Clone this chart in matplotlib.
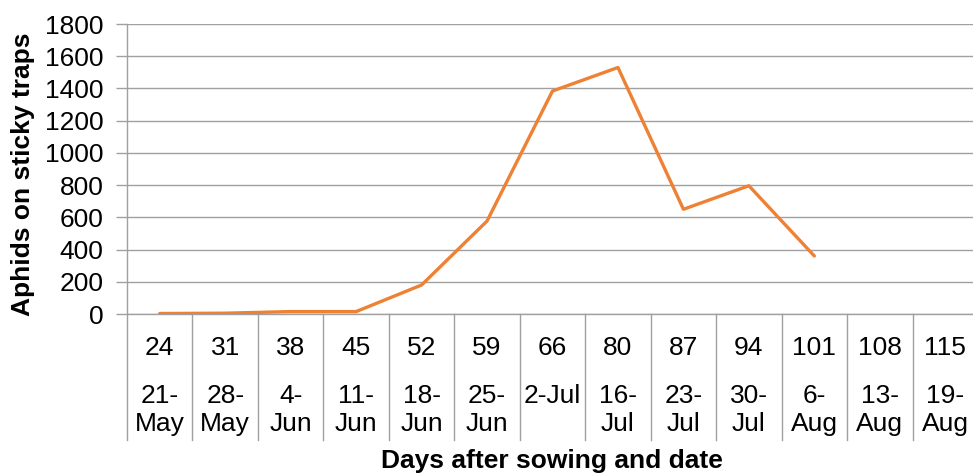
import matplotlib.pyplot as plt
import matplotlib.transforms as mtransforms

plt.rcParams['font.family'] = ['Liberation Sans', 'DejaVu Sans']

# Data
days = ['24', '31', '38', '45', '52', '59', '66', '80', '87', '94', '101', '108', '115']
dates = ['21-\nMay', '28-\nMay', '4-\nJun', '11-\nJun', '18-\nJun', '25-\nJun', '2-Jul',
         '16-\nJul', '23-\nJul', '30-\nJul', '6-\nAug', '13-\nAug', '19-\nAug']
aphids = [3, 5, 15, 15, 180, 577, 1384, 1530, 650, 796, 360]

line_color = '#EE8133'
grid_color = '#A0A0A0'
tick_fs = 19

fig = plt.figure(figsize=(9.73, 4.75), dpi=100)
ax = fig.add_axes([127 / 973, 161 / 475, 851 / 973, 290 / 475])

x = list(range(len(aphids)))
ax.plot(x, aphids, color=line_color, linewidth=2.4, solid_capstyle='round',
        solid_joinstyle='round', zorder=3)

ax.set_xlim(-0.5, len(days) - 0.5)
ax.set_ylim(0, 1800)
ax.set_yticks(range(0, 1801, 200))
ax.yaxis.grid(True, color=grid_color, linewidth=1.0)
ax.set_axisbelow(True)
ax.tick_params(axis='y', length=8, width=1.0, color=grid_color, labelsize=tick_fs,
               pad=9)
ax.set_xticks([])

for side in ['top', 'right']:
    ax.spines[side].set_visible(False)
ax.spines['left'].set_color(grid_color)
ax.spines['bottom'].set_color(grid_color)
ax.spines['left'].set_linewidth(1.0)
ax.spines['bottom'].set_linewidth(1.0)

# Multi-level category axis
trans = mtransforms.blended_transform_factory(ax.transData, ax.transAxes)
sep_bottom = -(440 - 314) / 290
for i in range(len(days) + 1):
    ax.plot([i - 0.5, i - 0.5], [0, sep_bottom], color=grid_color, linewidth=1.0,
            transform=trans, clip_on=False)
for i, (d, dt) in enumerate(zip(days, dates)):
    ax.text(i, -(348 - 314) / 290, d, transform=trans, ha='center', va='center',
            fontsize=tick_fs)
    ax.text(i, -(384 - 314) / 290, dt, transform=trans, ha='center', va='top',
            fontsize=tick_fs, linespacing=1.2)

fig.text(23 / 973, 1 - 174 / 475, 'Aphids on sticky traps', rotation=90,
         ha='center', va='center', fontsize=19, fontweight='bold')
fig.text(552 / 973, 1 - 461 / 475, 'Days after sowing and date',
         ha='center', va='center', fontsize=19, fontweight='bold')

fig.savefig('out.png', dpi=100)
